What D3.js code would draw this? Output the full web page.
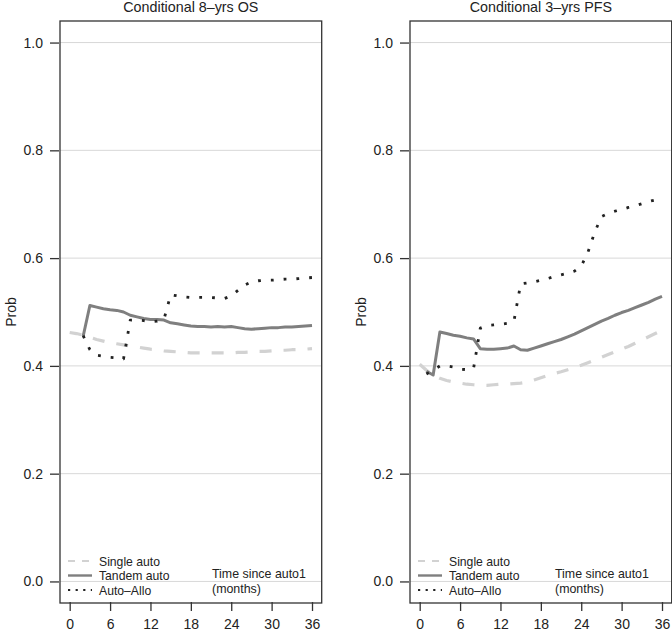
<!DOCTYPE html>
<html>
<head>
<meta charset="utf-8">
<style>
  body { margin: 0; background: #fff; font-family: "Liberation Sans", Arial, sans-serif; }
  text { fill: #222; }
</style>
<title>Conditional survival</title>
</head>
<body>
<div id="chart"></div>
<script src="https://cdn.jsdelivr.net/npm/d3@7"></script>
<script>
// ---- data ----
var months = d3.range(0, 37);
var yTicks = [0.0, 0.2, 0.4, 0.6, 0.8, 1.0];
var xTicks = [0, 6, 12, 18, 24, 30, 36];
var seriesNames = ["Single auto", "Tandem auto", "Auto\u2013Allo"];
var panelTitles = ["Conditional 8\u2013yrs OS", "Conditional 3\u2013yrs PFS"];

// OS panel, months 0..36
var osSingle = [.462,.460,.457,.453,.449,.446,.443,.441,.439,.437,.435,.433,.431,.430,.428,.427,.426,.425,.424,.424,
  .424,.424,.424,.424,.424,.425,.425,.426,.427,.427,.428,.429,.429,.430,.430,.431,.432];
// months 2..36
var osTandem = [.455,.512,.509,.506,.504,.503,.500,.494,.491,.488,.486,.486,.485,.480,.478,.476,.474,.473,.473,.472,
  .473,.472,.473,.471,.469,.468,.469,.470,.471,.471,.472,.472,.473,.474,.475];
var osAllo = [.456,.430,.420,.418,.416,.415,.413,.485,.485,.484,.482,.483,.486,.532,.530,.528,.527,.527,.527,.527,
  .526,.525,.530,.540,.550,.556,.558,.559,.559,.560,.561,.561,.562,.563,.564];

// PFS panel, months 0..36
var pfsSingle = [.403,.392,.383,.377,.373,.370,.368,.366,.365,.364,.364,.365,.366,.366,.367,.368,.370,.374,.378,.382,
  .386,.389,.393,.397,.401,.406,.411,.416,.421,.426,.431,.436,.442,.448,.454,.460,.466];
// months 1..36
var pfsTandem = [.390,.383,.463,.460,.457,.455,.452,.450,.432,.431,.431,.432,.433,.437,.430,.429,.433,.437,.441,.445,
  .449,.454,.459,.465,.471,.477,.483,.488,.494,.499,.503,.508,.513,.518,.524,.529];
var pfsAllo = [.385,.392,.400,.400,.398,.394,.393,.395,.470,.475,.476,.477,.479,.483,.552,.554,.556,.559,.562,.566,
  .569,.572,.576,.585,.611,.648,.677,.683,.687,.690,.694,.697,.701,.705,.708,.712];

function pairs(start, vals) { return vals.map(function(v, i) { return {t: months[start + i], p: v}; }); }

var panels = [
  {title: panelTitles[0], left: 60, noteX: 152,
   series: [pairs(0, osSingle), pairs(2, osTandem), pairs(2, osAllo)]},
  {title: panelTitles[1], left: 410, noteX: 145,
   series: [pairs(0, pfsSingle), pairs(1, pfsTandem), pairs(1, pfsAllo)]}
];

var styles = [
  {stroke: "#d2d2d2", width: 3.2, dash: "12,12", lw: 2.2, ldash: "7,7", cap: "butt"},
  {stroke: "#7f7f7f", width: 3, dash: null, lw: 2.4, ldash: null, cap: "butt"},
  {stroke: "#222", width: 2.8, dash: "2.8,10", lw: 2.2, ldash: "2.2,5.4", cap: "butt"}
];

var W = 672, H = 631, pw = 261.7, plotTop = 21, plotBottom = 603;

var svg = d3.select("#chart").append("svg")
  .attr("width", W).attr("height", H);

panels.forEach(function(pn) {
  var x = d3.scaleLinear().domain([-1.44, 37.44]).range([pn.left, pn.left + pw]);
  var y = d3.scaleLinear().domain([-0.04, 1.04]).range([plotBottom, plotTop]);
  var g = svg.append("g");

  // grid
  g.selectAll(".grid").data(yTicks).enter().append("line")
    .attr("x1", pn.left).attr("x2", pn.left + pw)
    .attr("y1", function(d) { return y(d); }).attr("y2", function(d) { return y(d); })
    .style("stroke", "#d8d8d8").style("stroke-width", 1);

  // curves
  pn.series.forEach(function(s, i) {
    var st = styles[i];
    g.append("path").datum(s)
      .attr("d", d3.line().x(function(d) { return x(d.t); }).y(function(d) { return y(d.p); }))
      .style("fill", "none").style("stroke", st.stroke).style("stroke-width", st.width)
      .style("stroke-dasharray", st.dash).style("stroke-linecap", st.cap)
      .style("stroke-linejoin", "round");
  });

  // box
  g.append("rect").attr("x", pn.left).attr("y", plotTop)
    .attr("width", pw).attr("height", plotBottom - plotTop)
    .style("fill", "none").style("stroke", "#333").style("stroke-width", 1.3);

  // axes
  var ya = g.append("g").attr("transform", "translate(" + (pn.left - 1) + ",0)")
    .call(d3.axisLeft(y).tickValues(yTicks).tickFormat(d3.format(".1f")).tickSize(9).tickPadding(7));
  var xa = g.append("g").attr("transform", "translate(0," + (plotBottom - 1) + ")")
    .call(d3.axisBottom(x).tickValues(xTicks).tickSize(9).tickPadding(8));
  [ya, xa].forEach(function(a) {
    a.select(".domain").remove();
    a.selectAll("line").style("stroke", "#333").style("stroke-width", 1.3);
    a.selectAll("text").style("font-size", "14px").style("font-family", "'Liberation Sans', Arial, sans-serif").style("fill", "#222");
  });

  // title
  g.append("text").attr("x", pn.left + pw / 2).attr("y", 12)
    .attr("text-anchor", "middle").style("font-size", "14.3px").text(pn.title);

  // y label
  g.append("text").attr("transform", "translate(" + (pn.left - 44) + "," + ((plotTop + plotBottom) / 2) + ") rotate(-90)")
    .attr("text-anchor", "middle").style("font-size", "14px").text("Prob");

  // legend
  seriesNames.forEach(function(n, i) {
    var ly = 561 + i * 14.5, st = styles[i];
    g.append("line").attr("x1", pn.left + 8).attr("x2", pn.left + 32)
      .attr("y1", ly).attr("y2", ly)
      .style("stroke", st.stroke).style("stroke-width", st.lw)
      .style("stroke-dasharray", st.ldash);
    g.append("text").attr("x", pn.left + 39).attr("y", ly + 4.5)
      .style("font-size", "12.2px").text(n);
  });
  g.append("text").attr("x", pn.left + pn.noteX).attr("y", 578).style("font-size", "12.4px").text("Time since auto1");
  g.append("text").attr("x", pn.left + pn.noteX).attr("y", 593).style("font-size", "12.4px").text("(months)");
});
</script>
</body>
</html>
